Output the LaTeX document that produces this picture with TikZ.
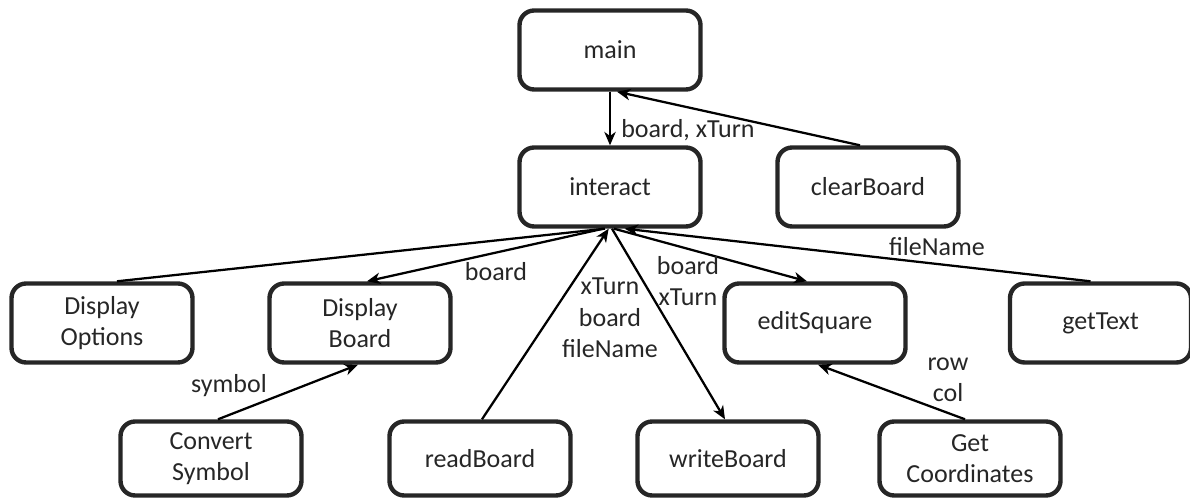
\documentclass[tikz,border=0pt]{standalone}
\usepackage{fontspec}
\setmainfont{Carlito}
\usetikzlibrary{arrows.meta}
\definecolor{boxline}{HTML}{262626}
\definecolor{txt}{HTML}{262626}
\begin{document}
\begin{tikzpicture}[x=0.75pt,y=-0.75pt,
  box/.style={draw=boxline,line width=3.3pt,rounded corners=11pt,minimum width=135.75pt,minimum height=59.25pt,align=center,inner sep=0pt,text=txt,font=\fontsize{19.5}{23.5}\selectfont},
  lowbox/.style={box,minimum height=55.5pt},
  conn/.style={draw=black,line width=1.7pt},
  arr/.style={conn,-{Stealth[length=10pt,width=8.5pt,inset=3pt]}},
  lbl/.style={text=txt,inner sep=0pt,align=center,font=\fontsize{19.5}{23.5}\selectfont}]
\useasboundingbox (0,0) rectangle (1190,498);
\node[box] (main) at (610,50) {main};
\node[box] (interact) at (610,187) {interact};
\node[box] (clear) at (868,187) {clearBoard};
\node[box] (dopt) at (102,323) {Display\\Options};
\node[box] (dboard) at (360,323) {Display\\Board};
\node[box] (edit) at (815,323) {editSquare};
\node[box] (gettext) at (1100.5,323) {getText};
\node[lowbox] (conv) at (211,458.5) {Convert\\Symbol};
\node[lowbox] (read) at (480,458.5) {readBoard};
\node[lowbox] (write) at (728,458.5) {writeBoard};
\node[lowbox] (coord) at (970,458.5) {Get\\Coordinates};

\draw[arr] (main.south) -- (interact.north);
\draw[arr] ([xshift=-6pt]clear.north) -- ([xshift=5.25pt]main.south);
\draw[conn] ([xshift=11.25pt]dopt.north) -- ([xshift=-3.75pt]interact.south);
\draw[arr] ([xshift=-5pt]interact.south) -- ([xshift=5.25pt]dboard.north);
\draw[arr] ([xshift=1.5pt]read.north) -- ([xshift=-1pt]interact.south);
\draw[arr] ([xshift=1.5pt]interact.south) -- ([xshift=-2.25pt]write.north);
\draw[arr] ([xshift=3pt]interact.south) -- ([xshift=-6pt]edit.north);
\draw[arr] ([xshift=-7.5pt]gettext.north) -- ([xshift=11pt]interact.south);
\draw[arr] ([xshift=5.25pt]conv.north) -- ([xshift=-1.5pt]dboard.south);
\draw[arr] ([xshift=-3.75pt]coord.north) -- ([xshift=2.25pt]edit.south);

\node[lbl,anchor=west] (l1) at (621,130) {board, xTurn};
\node[lbl] (l2) at (496,272) {board};
\node[lbl] (l3) at (610,318) {xTurn\\board\\fileName};
\node[lbl] (l4) at (688,281) {board\\xTurn};
\node[lbl] (l5) at (937,247) {fileName};
\node[lbl] (l6) at (229,386) {symbol};
\node[lbl] (l7) at (948,380) {row\\col};
\end{tikzpicture}
\end{document}
